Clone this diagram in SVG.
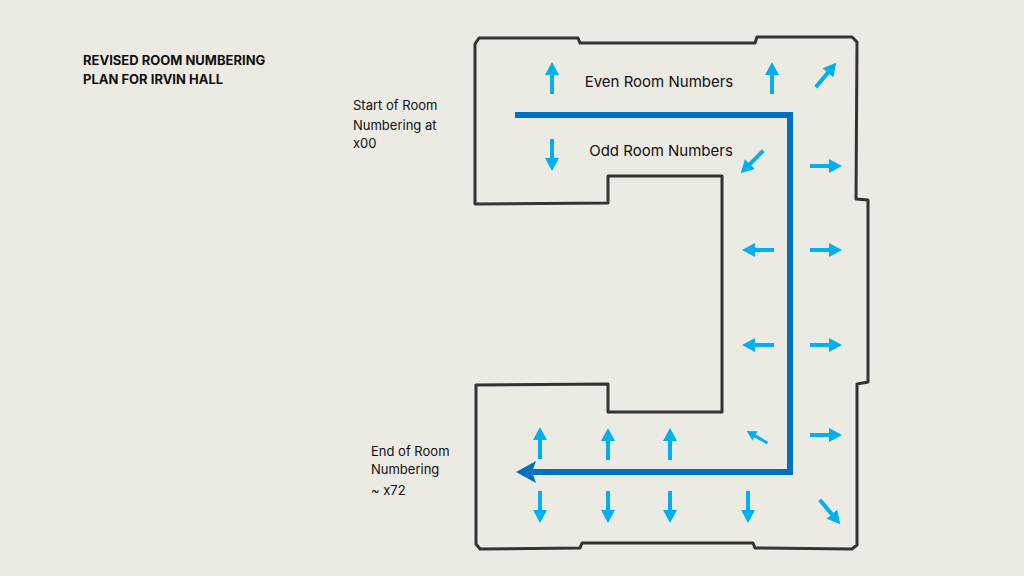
<svg xmlns="http://www.w3.org/2000/svg" width="1024" height="576" viewBox="0 0 1024 576">
<style>
text{font-family:Inter,"Open Sans",sans-serif;fill:#111}
.t{font-size:13px;font-weight:700}
.l{font-size:13px}
.m{font-size:15px}
.wall{fill:none;stroke:#333;stroke-width:3;stroke-linejoin:round}
.a{fill:#00b0f0}
</style>
<defs>
<path id="ar" d="M-2,16 L2,16 L2,-3 L7,-3 L0,-16 L-7,-3 L-2,-3 Z"/>
</defs>
<rect width="1024" height="576" fill="#ebeae3"/>
<text class="t" x="83" y="65">REVISED ROOM NUMBERING</text>
<text class="t" x="83" y="84">PLAN FOR IRVIN HALL</text>
<text class="l" x="353" y="110">Start of Room</text>
<text class="l" x="353" y="130">Numbering at</text>
<text class="l" x="353" y="148">x00</text>
<text class="l" x="371" y="456">End of Room</text>
<text class="l" x="371" y="474">Numbering</text>
<text class="l" x="371" y="495">~ x72</text>
<text class="m" x="659" y="87" text-anchor="middle">Even Room Numbers</text>
<text class="m" x="661" y="156" text-anchor="middle">Odd Room Numbers</text>
<path class="wall" d="M479,38 L578,38 L580,43 L755,43 L757,37 L852,37 L857,42 L856,199 L868,200 L868,382 L857,384 L857,545 L852,549 L755,548 L753,543 L582,543 L580,548 L480,549 L476,544 L476,385 L608,384 L608,412 L722,412 L722,176 L608,176 L608,203 L475,204 L475,44 Z"/>
<g id="route">
<path d="M515,115 L790,115 L790,472 L530,472" fill="none" stroke="#0070c0" stroke-width="6"/>
<path d="M516,472 L536,461 L532,472 L536,483 Z" fill="#0070c0"/>
</g>
<g id="arrows" class="a">
<use href="#ar" transform="translate(552,78)"/>
<use href="#ar" transform="translate(772,78)"/>
<use href="#ar" transform="translate(540,443)"/>
<use href="#ar" transform="translate(608,444)"/>
<use href="#ar" transform="translate(670,444)"/>
<use href="#ar" transform="translate(552,155) rotate(180)"/>
<use href="#ar" transform="translate(540,507) rotate(180)"/>
<use href="#ar" transform="translate(608,507) rotate(180)"/>
<use href="#ar" transform="translate(670,507) rotate(180)"/>
<use href="#ar" transform="translate(748,507) rotate(180)"/>
<use href="#ar" transform="translate(826,166) rotate(90)"/>
<use href="#ar" transform="translate(826,250) rotate(90)"/>
<use href="#ar" transform="translate(826,345) rotate(90)"/>
<use href="#ar" transform="translate(826,435) rotate(90)"/>
<use href="#ar" transform="translate(758,250) rotate(-90)"/>
<use href="#ar" transform="translate(758,345) rotate(-90)"/>
<use href="#ar" transform="translate(826,75) rotate(40)"/>
<use href="#ar" transform="translate(752,162) rotate(225)"/>
<use href="#ar" transform="translate(757,437) rotate(-60) scale(0.75)"/>
<use href="#ar" transform="translate(830,512) rotate(140)"/>
</g>
</svg>
